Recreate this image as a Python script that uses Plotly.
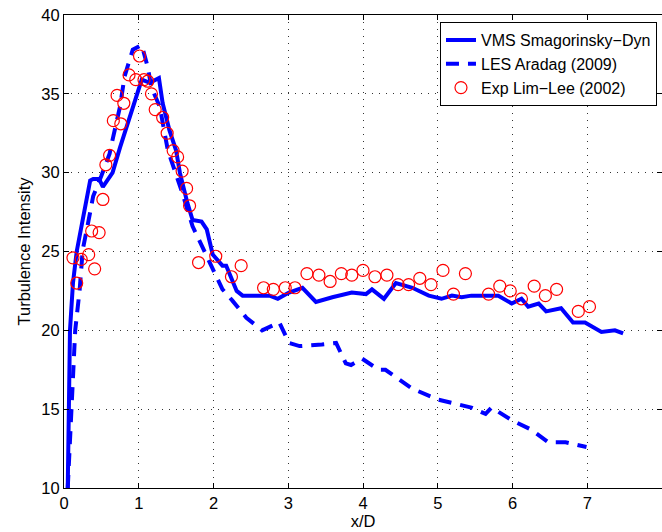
import plotly.graph_objects as go

# VMS Smagorinsky-Dyn (solid)
vms_x = [0.05, 0.08, 0.12, 0.17, 0.25, 0.35, 0.39, 0.47, 0.52, 0.65, 0.75, 0.88, 0.97, 1.04,
         1.15, 1.27, 1.32, 1.41, 1.50, 1.55, 1.65, 1.72, 1.84, 1.91, 1.99, 2.12, 2.17, 2.31,
         2.39, 2.75, 2.86, 3.01, 3.19, 3.37, 3.59, 3.85, 4.04, 4.12, 4.28, 4.44, 4.66, 4.88,
         5.05, 5.19, 5.32, 5.45, 5.81, 5.99, 6.12, 6.21, 6.35, 6.45, 6.65, 6.81, 6.97, 7.19,
         7.37, 7.48]
vms_y = [10.0, 20.0, 23.0, 25.0, 27.0, 29.5, 29.6, 29.6, 29.1, 30.0, 31.6, 33.5, 35.0, 35.9,
         35.7, 36.0, 34.4, 32.7, 31.4, 30.0, 28.1, 27.0, 26.9, 26.4, 24.8, 24.1, 24.1, 22.5,
         22.2, 22.2, 22.0, 22.4, 22.7, 21.8, 22.1, 22.4, 22.3, 22.6, 22.0, 23.0, 22.7, 22.2,
         22.0, 22.2, 22.1, 22.2, 22.2, 21.7, 22.0, 21.5, 21.7, 21.2, 21.4, 20.5, 20.5, 19.9,
         20.0, 19.8]

# LES Aradag (2009) (dashed)
les_x = [0.05, 0.10, 0.15, 0.21, 0.25, 0.33, 0.39, 0.50, 0.61, 0.65, 0.75, 0.81, 0.92, 1.04,
         1.12, 1.17, 1.28, 1.39, 1.57, 1.72, 1.95, 2.12, 2.25, 2.44, 2.65, 2.88, 3.01, 3.15,
         3.45, 3.64, 3.77, 3.84, 3.99, 4.21, 4.30, 4.66, 5.01, 5.45, 5.64, 5.72, 5.99, 6.25,
         6.48, 6.71, 6.99]
les_y = [10.0, 15.0, 20.0, 22.6, 25.1, 27.0, 28.5, 29.8, 31.2, 32.1, 34.2, 36.1, 37.8, 38.1,
         36.7, 35.4, 34.2, 31.4, 28.9, 26.6, 24.3, 22.6, 21.9, 20.8, 20.0, 20.5, 19.2, 19.0,
         19.1, 19.2, 17.9, 17.8, 18.2, 17.5, 17.5, 16.3, 15.6, 15.1, 14.7, 15.1, 14.3, 13.7,
         12.9, 12.9, 12.6]

# Exp Lim-Lee (2002) (circles)
exp_x = [0.12, 0.17, 0.23, 0.33, 0.41, 0.37, 0.47, 0.52, 0.56, 0.61, 0.66, 0.76, 0.71, 0.80,
         0.87, 0.96, 1.01, 1.07, 1.12, 1.17, 1.22, 1.32, 1.38, 1.46, 1.52, 1.58, 1.64, 1.68,
         1.80, 2.03, 2.24, 2.37, 2.67, 2.80, 2.96, 3.09, 3.25, 3.41, 3.56, 3.71, 3.85, 4.00,
         4.16, 4.32, 4.47, 4.61, 4.76, 4.91, 5.07, 5.21, 5.37, 5.68, 5.83, 5.97, 6.12, 6.29,
         6.44, 6.59, 6.88, 7.03]
exp_y = [24.6, 23.0, 24.5, 24.8, 23.9, 26.3, 26.2, 28.3, 30.5, 31.1, 33.3, 33.1, 34.9, 34.4,
         36.2, 35.9, 37.4, 35.9, 35.8, 35.0, 34.0, 33.5, 32.5, 31.4, 31.0, 30.1, 29.0, 27.9,
         24.3, 24.7, 23.4, 24.1, 22.7, 22.6, 22.7, 22.7, 23.6, 23.5, 23.1, 23.6, 23.5, 23.8,
         23.4, 23.5, 22.9, 22.9, 23.3, 22.9, 23.8, 22.3, 23.6, 22.3, 22.8, 22.5, 22.0, 22.8,
         22.2, 22.6, 21.2, 21.5]

x_ticks = [0, 1, 2, 3, 4, 5, 6, 7, 8]
y_ticks = [10, 15, 20, 25, 30, 35, 40]

FONT = "Liberation Sans, Arial, Helvetica, sans-serif"
FS = 16.5

fig = go.Figure()
fig.add_trace(go.Scatter(x=vms_x, y=vms_y, mode="lines", name="VMS Smagorinsky\u2212Dyn",
                         line=dict(color="#0000ff", width=4)))
fig.add_trace(go.Scatter(x=les_x, y=les_y, mode="lines", name="LES Aradag (2009)",
                         line=dict(color="#0000ff", width=4, dash="13px,9px")))
fig.add_trace(go.Scatter(x=exp_x, y=exp_y, mode="markers", name="Exp Lim\u2212Lee (2002)",
                         marker=dict(symbol="circle-open", size=12, color="#ff0000",
                                     line=dict(width=1.2, color="#ff0000"))))

axis_common = dict(
    showline=True, linecolor="black", linewidth=1.2, mirror="allticks",
    ticks="inside", ticklen=5, tickcolor="black",
    showgrid=True, gridcolor="#333333", gridwidth=1, griddash="1px,6px",
    zeroline=False, automargin=False,
    tickfont=dict(family=FONT, size=FS, color="black"),
)

fig.update_xaxes(range=[0, 8], tickvals=x_ticks, ticktext=[str(v) for v in x_ticks],
                 title=dict(text="x/D", font=dict(family=FONT, size=FS, color="black"), standoff=3),
                 **axis_common)
fig.update_yaxes(range=[10, 40], tickvals=y_ticks, ticktext=[str(v) for v in y_ticks],
                 title=dict(text="Turbulence Intensity", font=dict(family=FONT, size=FS, color="black"),
                            standoff=6),
                 **axis_common)

fig.update_layout(
    width=662, height=532,
    margin=dict(l=64, r=0, t=15, b=44),
    paper_bgcolor="white", plot_bgcolor="white",
    font=dict(family=FONT, size=FS, color="black"),
    legend=dict(x=0.9916, y=0.985, xanchor="right", yanchor="top",
                bgcolor="white", bordercolor="black", borderwidth=1,
                font=dict(family=FONT, size=16, color="black"),
                tracegroupgap=0),
    showlegend=True,
)

fig.write_html("out.html", config={"displayModeBar": False},
               post_script="document.body.style.margin='0';")
